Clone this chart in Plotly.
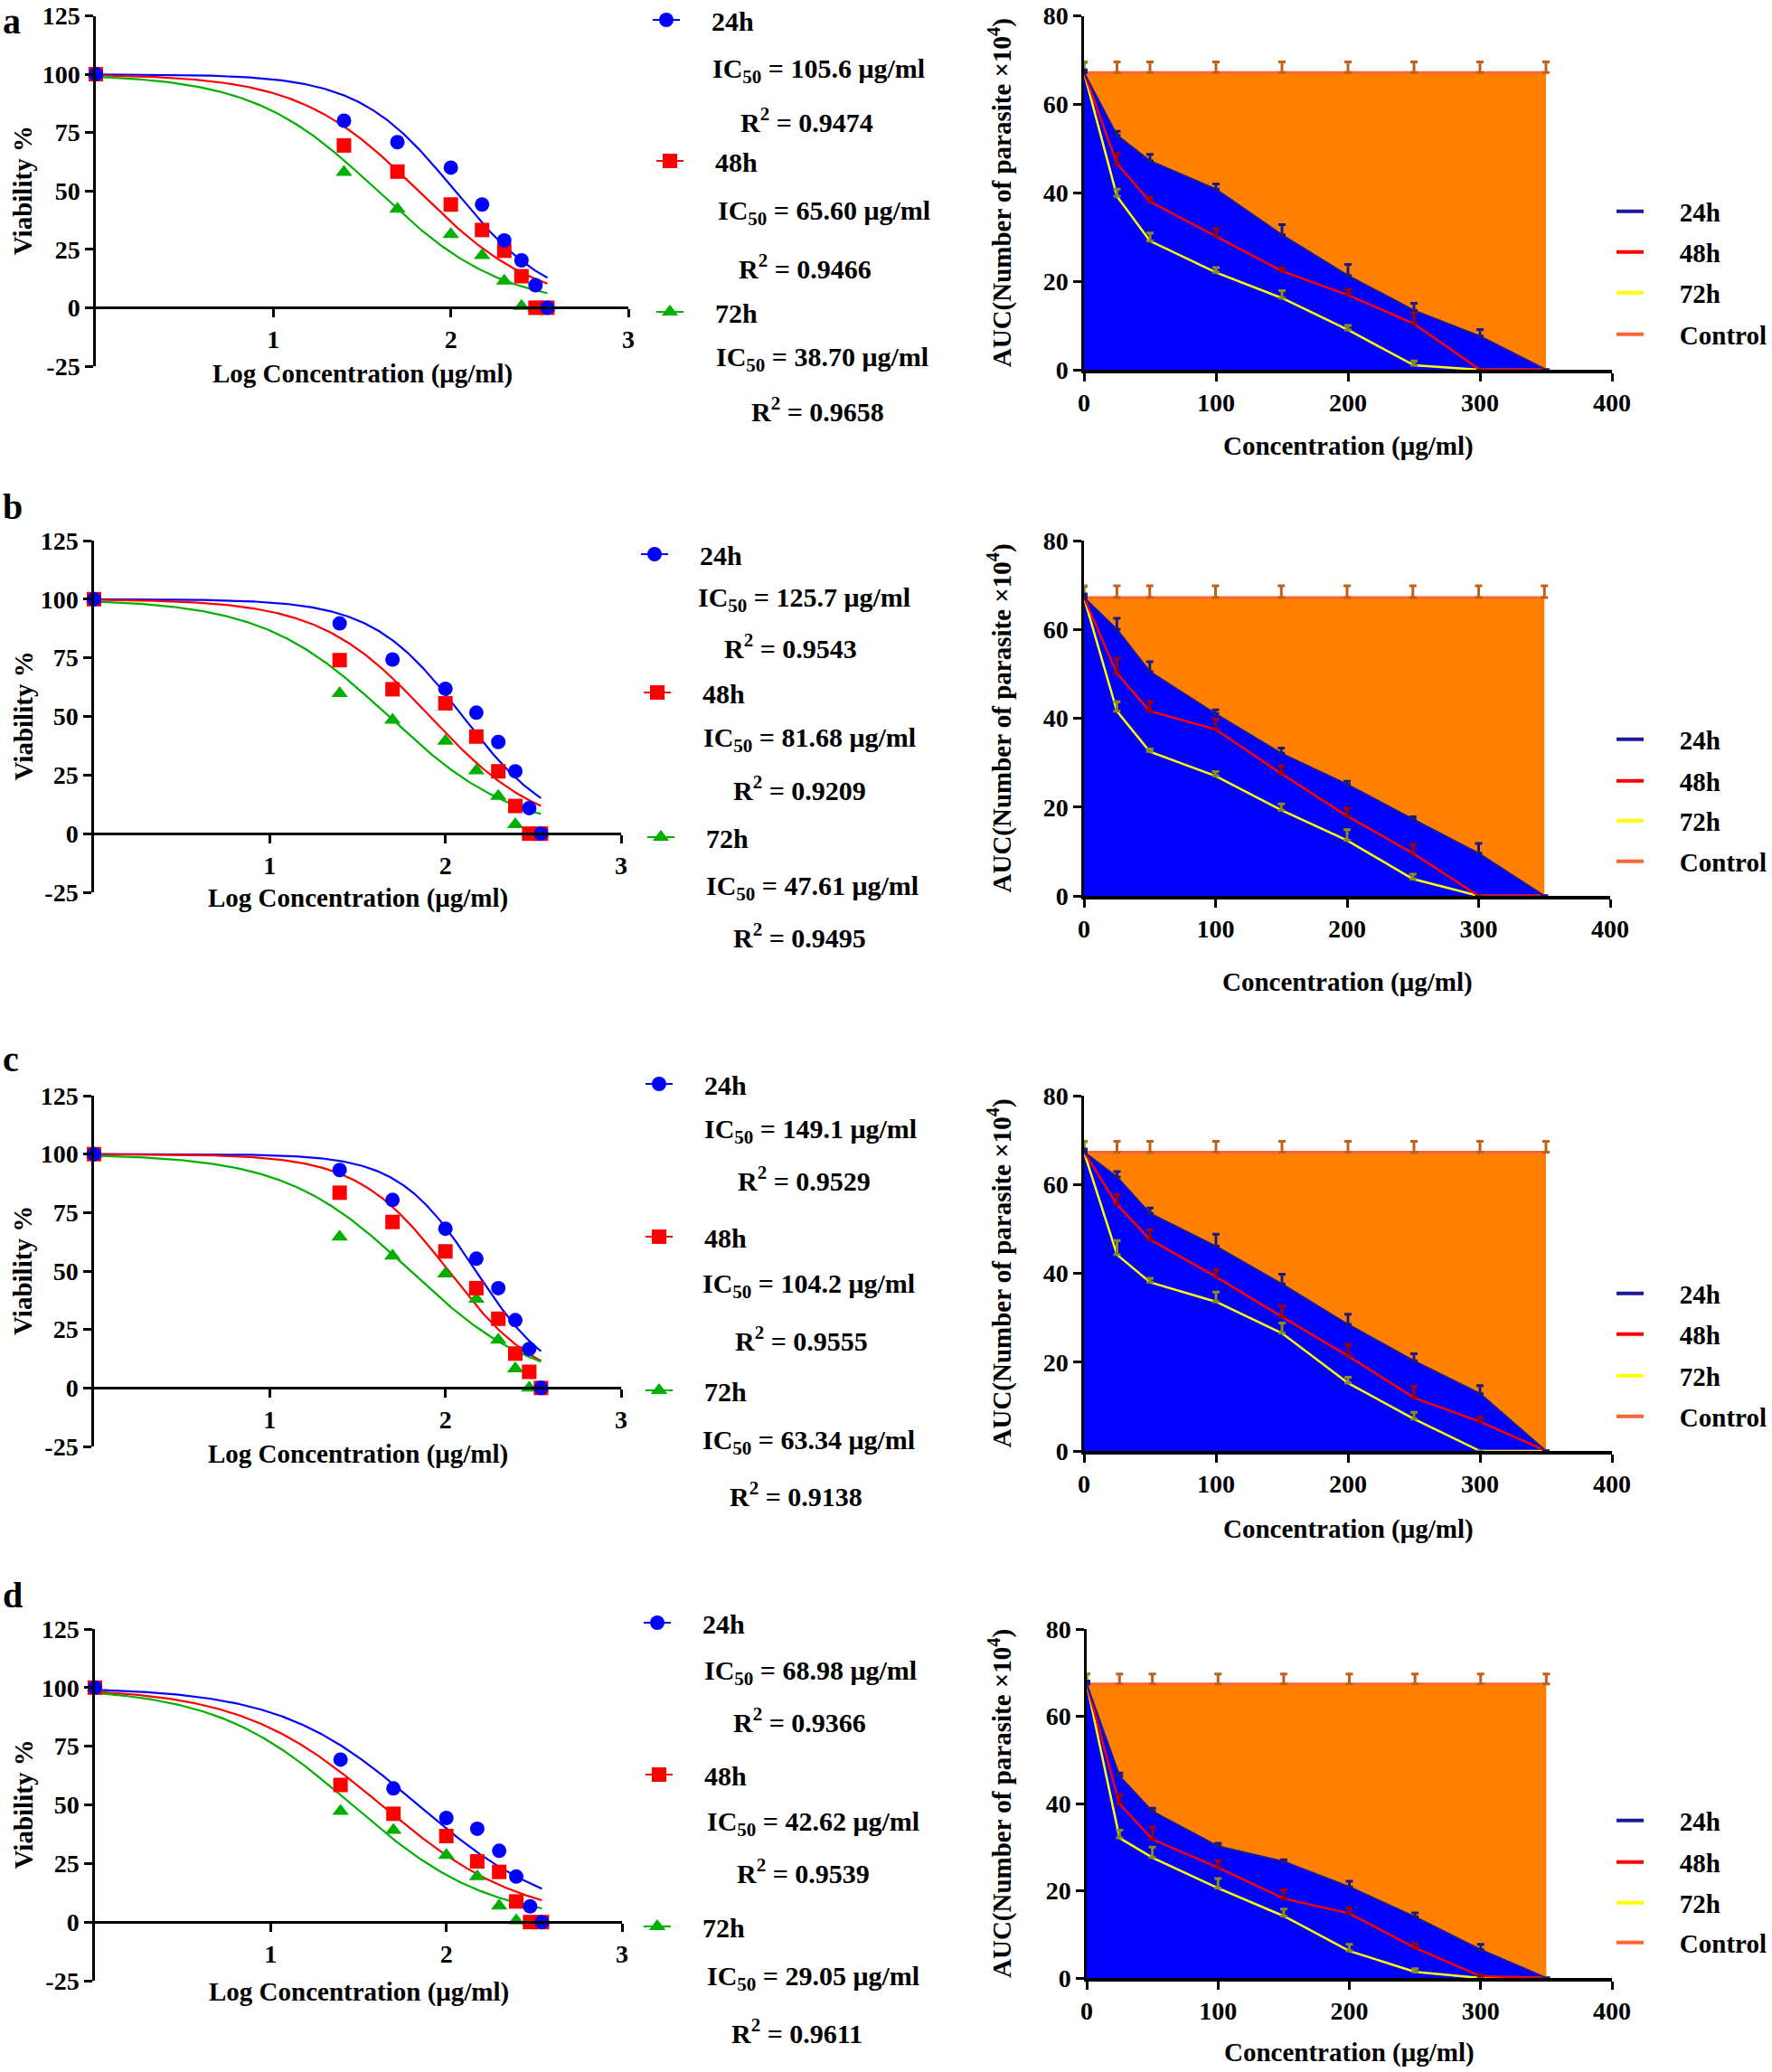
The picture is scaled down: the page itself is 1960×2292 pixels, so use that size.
import numpy as np
import plotly.graph_objects as go

# ---------------------------------------------------------------- data
PANEL_LABELS = ["a", "b", "c", "d"]
TIME_LABELS = ["24h", "48h", "72h"]
CONC = [0, 25, 50, 100, 150, 200, 250, 300, 350]          # µg/ml
LOG_CONC = [0.0, 1.398, 1.699, 2.0, 2.176, 2.301, 2.398, 2.477, 2.544]

# viability % (left panels)
VIAB_A_24H = [100, 80.1, 70.9, 60.0, 44.2, 28.8, 20.3, 9.6, 0]
VIAB_A_48H = [100, 69.5, 58.3, 44.2, 33.3, 24.4, 13.5, 0, 0]
VIAB_A_72H = [100, 58.0, 42.3, 31.4, 22.4, 11.5, 0.6, 0, 0]
VIAB_B_24H = [100, 89.7, 74.3, 61.8, 51.6, 39.1, 26.6, 10.9, 0]
VIAB_B_48H = [100, 74.0, 61.6, 55.6, 41.4, 26.6, 11.8, 0, 0]
VIAB_B_72H = [100, 59.8, 48.5, 39.5, 26.9, 16.0, 3.9, 0, 0]
VIAB_C_24H = [100, 93.2, 80.4, 68.1, 55.3, 42.7, 29.0, 16.7, 0]
VIAB_C_48H = [100, 83.5, 71.0, 58.4, 42.7, 29.6, 14.7, 6.9, 0]
VIAB_C_72H = [100, 64.6, 56.5, 48.8, 38.0, 20.5, 8.2, 0, 0]
VIAB_D_24H = [100, 69.3, 57.0, 44.4, 39.8, 30.4, 19.4, 6.7, 0]
VIAB_D_48H = [100, 58.5, 46.2, 36.7, 25.9, 21.4, 8.8, 0, 0]
VIAB_D_72H = [100, 47.3, 39.2, 28.5, 19.4, 6.9, 0.6, 0, 0]

# fitted dose-response parameters (IC50 as printed, Hill slope estimated)
IC50_A = ["105.6", "65.60", "38.70"]
IC50_B = ["125.7", "81.68", "47.61"]
IC50_C = ["149.1", "104.2", "63.34"]
IC50_D = ["68.98", "42.62", "29.05"]
R2_A = ["0.9474", "0.9466", "0.9658"]
R2_B = ["0.9543", "0.9209", "0.9495"]
R2_C = ["0.9529", "0.9555", "0.9138"]
R2_D = ["0.9366", "0.9539", "0.9611"]
HILL_A = [1.60, 1.29, 1.23]
HILL_B = [1.68, 1.38, 1.20]
HILL_C = [1.97, 1.68, 1.21]
HILL_D = [1.105, 1.08, 1.117]

# AUC (number of parasite x10^4) (right panels)
AUC_A_CTRL = [67.2, 67.2, 67.2, 67.2, 67.2, 67.2, 67.2, 67.2, 67.2]
AUC_A_CTRL_ERR = [2.4, 2.4, 2.4, 2.4, 2.4, 2.4, 2.4, 2.4, 2.4]
AUC_A_24H = [67.2, 53.0, 47.2, 40.8, 30.5, 21.3, 13.4, 7.6, 0]
AUC_A_24H_ERR = [0.6, 0.9, 1.5, 1.2, 2.3, 2.5, 1.6, 1.5, 0]
AUC_A_48H = [67.2, 46.6, 38.0, 30.2, 22.3, 16.9, 10.4, 0, 0]
AUC_A_48H_ERR = [0.3, 2.3, 1.0, 1.7, 0.7, 1.3, 2.5, 0, 0]
AUC_A_72H = [67.2, 39.2, 29.1, 22.0, 16.2, 9.0, 1.0, 0, 0]
AUC_A_72H_ERR = [2.2, 1.6, 1.8, 1.1, 1.7, 1.0, 1.0, 0, 0]

AUC_B_CTRL = [67.2, 67.2, 67.2, 67.2, 67.2, 67.2, 67.2, 67.2, 67.2]
AUC_B_CTRL_ERR = [2.6, 2.6, 2.6, 2.6, 2.6, 2.6, 2.6, 2.6, 2.6]
AUC_B_24H = [67.2, 60.0, 50.5, 41.0, 32.1, 25.1, 17.3, 9.6, 0]
AUC_B_24H_ERR = [0.8, 2.5, 2.2, 0.9, 1.2, 0.7, 0.5, 2.2, 0]
AUC_B_48H = [67.2, 50.1, 41.6, 37.5, 27.5, 18.0, 9.6, 0, 0]
AUC_B_48H_ERR = [0.5, 3.4, 2.1, 2.3, 1.8, 1.8, 2.0, 0, 0]
AUC_B_72H = [67.2, 41.6, 32.5, 27.0, 19.3, 12.5, 3.8, 0, 0]
AUC_B_72H_ERR = [2.4, 2.1, 0.6, 1.0, 1.4, 2.4, 1.1, 0, 0]

AUC_C_CTRL = [67.3, 67.3, 67.3, 67.3, 67.3, 67.3, 67.3, 67.3, 67.3]
AUC_C_CTRL_ERR = [2.4, 2.4, 2.4, 2.4, 2.4, 2.4, 2.4, 2.4, 2.4]
AUC_C_24H = [67.3, 61.7, 53.5, 46.1, 37.6, 28.5, 20.3, 12.9, 0]
AUC_C_24H_ERR = [0.7, 1.2, 1.2, 2.7, 2.2, 2.3, 1.6, 1.8, 0]
AUC_C_48H = [67.3, 55.5, 47.6, 39.2, 30.2, 21.4, 12.0, 6.6, 0]
AUC_C_48H_ERR = [0.5, 2.2, 2.2, 1.6, 2.4, 2.6, 2.5, 1.1, 0]
AUC_C_72H = [67.3, 44.2, 38.0, 33.6, 26.5, 15.3, 7.2, 0, 0]
AUC_C_72H_ERR = [2.3, 3.2, 0.9, 2.2, 2.3, 1.3, 1.5, 0, 0]

AUC_D_CTRL = [67.4, 67.4, 67.4, 67.4, 67.4, 67.4, 67.4, 67.4, 67.4]
AUC_D_CTRL_ERR = [2.3, 2.3, 2.3, 2.3, 2.3, 2.3, 2.3, 2.3, 2.3]
AUC_D_24H = [67.4, 46.3, 38.2, 30.2, 26.7, 20.9, 14.0, 6.5, 0]
AUC_D_24H_ERR = [0.7, 0.7, 0.7, 0.7, 0.4, 1.3, 0.9, 1.2, 0]
AUC_D_48H = [67.4, 39.9, 31.8, 25.3, 18.2, 14.8, 6.9, 0.4, 0]
AUC_D_48H_ERR = [0.4, 2.1, 2.8, 1.6, 2.0, 1.2, 1.0, 0.3, 0]
AUC_D_72H = [67.4, 32.1, 27.6, 20.6, 14.2, 6.2, 1.4, 0, 0]
AUC_D_72H_ERR = [2.3, 1.8, 2.4, 2.2, 1.6, 1.5, 0.7, 0, 0]

# tick labels
VIAB_TICKS = [-25, 0, 25, 50, 75, 100, 125]
VIAB_TICKTEXT = ["-25", "0", "25", "50", "75", "100", "125"]
LOG_TICKS = [1, 2, 3]
AUC_TICKS = [0, 20, 40, 60, 80]
CONC_TICKS = [0, 100, 200, 300, 400]

# ---------------------------------------------------------------- assemble
VIAB = [[VIAB_A_24H, VIAB_A_48H, VIAB_A_72H], [VIAB_B_24H, VIAB_B_48H, VIAB_B_72H],
        [VIAB_C_24H, VIAB_C_48H, VIAB_C_72H], [VIAB_D_24H, VIAB_D_48H, VIAB_D_72H]]
IC50 = [IC50_A, IC50_B, IC50_C, IC50_D]
R2 = [R2_A, R2_B, R2_C, R2_D]
HILL = [HILL_A, HILL_B, HILL_C, HILL_D]
AUC = [
    dict(ctrl=AUC_A_CTRL, ctrl_err=AUC_A_CTRL_ERR, s=[AUC_A_24H, AUC_A_48H, AUC_A_72H],
         e=[AUC_A_24H_ERR, AUC_A_48H_ERR, AUC_A_72H_ERR]),
    dict(ctrl=AUC_B_CTRL, ctrl_err=AUC_B_CTRL_ERR, s=[AUC_B_24H, AUC_B_48H, AUC_B_72H],
         e=[AUC_B_24H_ERR, AUC_B_48H_ERR, AUC_B_72H_ERR]),
    dict(ctrl=AUC_C_CTRL, ctrl_err=AUC_C_CTRL_ERR, s=[AUC_C_24H, AUC_C_48H, AUC_C_72H],
         e=[AUC_C_24H_ERR, AUC_C_48H_ERR, AUC_C_72H_ERR]),
    dict(ctrl=AUC_D_CTRL, ctrl_err=AUC_D_CTRL_ERR, s=[AUC_D_24H, AUC_D_48H, AUC_D_72H],
         e=[AUC_D_24H_ERR, AUC_D_48H_ERR, AUC_D_72H_ERR]),
]

# ---------------------------------------------------------------- styling / layout
W, H = 1960, 2292
FONT = "Liberation Serif"
BLACK = "#000000"

VIAB_COLORS = ["#0000ff", "#ff0000", "#00b000"]
VIAB_SYMBOLS = ["circle", "square", "triangle-up"]
AUC_LINE_COLORS = ["#1a1a99", "#ff0000", "#ffff00"]
AUC_ERR_COLORS = ["#1a1a80", "#a00000", "#8c8c14"]
CTRL_LINE = "#ff6633"
CTRL_ERR = "#c0601a"
FILL_BLUE = "#0000ff"
FILL_ORANGE = "#ff8000"

# pixel boxes of the plot areas
L_XPIX = [(106, 695), (104, 687), (104, 687), (105, 688)]
L_YPIX = [(17.5, 405), (598, 987), (1212, 1600), (1802, 2191)]
R_XPIX = [(1199, 1783), (1199, 1781), (1199, 1783), (1202, 1783)]
R_YPIX = [(17.5, 409), (598, 991), (1212, 1605), (1802, 2188)]

LEFT_LEG_Y = [[22, 178, 345], [613, 766, 926], [1199, 1368, 1538], [1795, 1963, 2131]]
LEFT_LEG_X = [[737, 741, 741], [724, 727, 731], [729, 729, 729], [727, 729, 727]]
IC_POS = [[(905, 78), (911, 235), (909, 397)],
          [(889, 663), (895, 818), (898, 982)],
          [(896, 1251), (894, 1422), (894, 1595)],
          [(896, 1850), (899, 2017), (899, 2188)]]
R2_POS = [[(892, 133), (890, 295), (904, 453)],
          [(874, 715), (884, 872), (884, 1035)],
          [(889, 1304), (886, 1481), (880, 1653)],
          [(884, 1903), (888, 2070), (881, 2247)]]
RIGHT_LEG_Y = [[234, 279, 324, 370], [818, 864, 908, 953],
               [1431, 1476, 1522, 1567], [2014, 2060, 2105, 2149]]
RIGHT_LEG_X = 1783
LETTER_Y = [0, 560, 1171, 1764]
LX_TITLE_Y = [414, 994, 1608, 2203]
RX_TITLE_Y = [493, 1086, 1691, 2270]


def px(x):
    return x / W


def py(y):
    return 1 - y / H


def hill_curve(log_ic50, hill, xs):
    return 100.0 / (1.0 + 10 ** ((xs - log_ic50) * hill))


fig = go.Figure()
layout = dict(width=W, height=H, autosize=False,
              margin=dict(l=0, r=0, t=0, b=0, pad=0, autoexpand=False),
              paper_bgcolor="white", plot_bgcolor="white", showlegend=True)
annotations = []
legend_id = [0]


def next_legend(xpix, ypix, size=30):
    legend_id[0] += 1
    name = "legend" if legend_id[0] == 1 else "legend%d" % legend_id[0]
    layout[name] = dict(x=px(xpix), y=py(ypix), xanchor="left", yanchor="middle",
                        bgcolor="rgba(0,0,0,0)", borderwidth=0,
                        font=dict(family=FONT, size=size, color=BLACK, weight="bold"))
    return name


tickfont = dict(family=FONT, size=28, color=BLACK, weight="bold")
titlefont = dict(family=FONT, size=29, color=BLACK, weight="bold")
axis_common = dict(showgrid=False, zeroline=False, showline=True, linecolor=BLACK,
                   linewidth=2.5, ticks="outside", ticklen=9, tickwidth=2.5,
                   tickcolor=BLACK, tickfont=tickfont, fixedrange=True)

EM = "\u2003"
curve_x = np.linspace(0, max(LOG_CONC), 300)

for r in range(4):
    kL, kR = 2 * r + 1, 2 * r + 2
    xL = "x" if kL == 1 else "x%d" % kL
    yL = "y" if kL == 1 else "y%d" % kL
    xR, yR = "x%d" % kR, "y%d" % kR
    xaxL = "xaxis" if kL == 1 else "xaxis%d" % kL
    yaxL = "yaxis" if kL == 1 else "yaxis%d" % kL

    # ---------------- left: viability dose-response
    ytop, ybot = L_YPIX[r]
    yd0, yd1 = py(ybot), py(ytop)
    zero_pos = yd0 + (yd1 - yd0) * (25.0 / 150.0)
    layout[xaxL] = dict(axis_common, domain=[px(L_XPIX[r][0]), px(L_XPIX[r][1])],
                        range=[0, 3], tickvals=LOG_TICKS, anchor="free", position=zero_pos)
    layout[yaxL] = dict(axis_common, domain=[yd0, yd1], range=[-25, 125],
                        tickvals=VIAB_TICKS, ticktext=VIAB_TICKTEXT, anchor=xL)

    for i in range(3):
        fig.add_trace(go.Scatter(
            x=curve_x, y=hill_curve(np.log10(float(IC50[r][i])), HILL[r][i], curve_x),
            mode="lines", line=dict(color=VIAB_COLORS[i], width=2.2),
            xaxis=xL, yaxis=yL, showlegend=False, hoverinfo="skip"))
    for i in [2, 1, 0]:
        # points separated by gaps so no connecting line is drawn, legend shows line + marker
        xs, ys = [], []
        for xv, yv in zip(LOG_CONC, VIAB[r][i]):
            xs += [xv, None]
            ys += [yv, None]
        leg = next_legend(LEFT_LEG_X[r][i] - 20, LEFT_LEG_Y[r][i])
        fig.add_trace(go.Scatter(
            x=xs, y=ys, mode="lines+markers", connectgaps=False,
            name=EM + TIME_LABELS[i], legend=leg,
            line=dict(color=VIAB_COLORS[i], width=2),
            marker=dict(symbol=VIAB_SYMBOLS[i], size=16, color=VIAB_COLORS[i],
                        line=dict(width=0)),
            cliponaxis=False, xaxis=xL, yaxis=yL))
        annotations.append(dict(
            x=px(IC_POS[r][i][0]), y=py(IC_POS[r][i][1]), xref="paper", yref="paper",
            text="IC<sub>50</sub> = %s μg/ml" % IC50[r][i], showarrow=False,
            xanchor="center", yanchor="middle",
            font=dict(family=FONT, size=30, color=BLACK, weight="bold")))
        annotations.append(dict(
            x=px(R2_POS[r][i][0]), y=py(R2_POS[r][i][1]), xref="paper", yref="paper",
            text="R<sup>2</sup> = %s" % R2[r][i], showarrow=False,
            xanchor="center", yanchor="middle",
            font=dict(family=FONT, size=30, color=BLACK, weight="bold")))

    annotations.append(dict(x=px(25), y=py((ytop + ybot) / 2), xref="paper", yref="paper",
                            text="Viability %", textangle=-90, showarrow=False,
                            xanchor="center", yanchor="middle", font=titlefont))
    annotations.append(dict(x=px(sum(L_XPIX[r]) / 2), y=py(LX_TITLE_Y[r]), xref="paper",
                            yref="paper", text="Log Concentration (μg/ml)", showarrow=False,
                            xanchor="center", yanchor="middle", font=titlefont))
    annotations.append(dict(x=px(2), y=py(LETTER_Y[r]), xref="paper", yref="paper",
                            text=PANEL_LABELS[r], showarrow=False, xanchor="left",
                            yanchor="top" if r == 0 else "middle", borderpad=0,
                            font=dict(family=FONT, size=40, color=BLACK, weight="bold")))

    # ---------------- right: AUC
    rtop, rbot = R_YPIX[r]
    layout["xaxis%d" % kR] = dict(axis_common, domain=[px(R_XPIX[r][0]), px(R_XPIX[r][1])],
                                  range=[0, 400], tickvals=CONC_TICKS, anchor=yR,
                                  linewidth=3.5)
    layout["yaxis%d" % kR] = dict(axis_common, domain=[py(rbot), py(rtop)], range=[0, 80],
                                  tickvals=AUC_TICKS, anchor=xR)
    d = AUC[r]
    # filled areas
    fig.add_trace(go.Scatter(x=CONC, y=d["ctrl"], mode="lines", fill="tozeroy",
                             fillcolor=FILL_ORANGE, line=dict(width=0, color=FILL_ORANGE),
                             xaxis=xR, yaxis=yR, showlegend=False, hoverinfo="skip"))
    fig.add_trace(go.Scatter(x=CONC, y=d["s"][0], mode="lines", fill="tozeroy",
                             fillcolor=FILL_BLUE, line=dict(width=0, color=FILL_BLUE),
                             xaxis=xR, yaxis=yR, showlegend=False, hoverinfo="skip"))
    names = TIME_LABELS + ["Control"]
    series = d["s"] + [d["ctrl"]]
    errs = d["e"] + [d["ctrl_err"]]
    lcolors = AUC_LINE_COLORS + [CTRL_LINE]
    ecolors = AUC_ERR_COLORS + [CTRL_ERR]
    widths = [2, 2.5, 2.5, 3]
    for j in [3, 2, 1, 0]:
        fig.add_trace(go.Scatter(x=CONC, y=series[j], mode="lines",
                                 line=dict(color=lcolors[j], width=widths[j]),
                                 xaxis=xR, yaxis=yR, showlegend=False, hoverinfo="skip"))
    for j in [3, 2, 1, 0]:
        fig.add_trace(go.Scatter(
            x=CONC, y=series[j], mode="markers",
            marker=dict(size=2, opacity=0, color=ecolors[j]),
            error_y=dict(type="data", symmetric=False, array=errs[j],
                         arrayminus=[0] * len(errs[j]), color=ecolors[j],
                         thickness=3, width=4),
            xaxis=xR, yaxis=yR, showlegend=False, hoverinfo="skip"))
    # legend entries (thicker key lines, as in the original key)
    for j in range(4):
        leg = next_legend(RIGHT_LEG_X, RIGHT_LEG_Y[r][j], size=29)
        fig.add_trace(go.Scatter(x=[None], y=[None], mode="lines",
                                 line=dict(color=lcolors[j], width=4),
                                 name=EM + "\u2009" + names[j], legend=leg,
                                 xaxis=xR, yaxis=yR, hoverinfo="skip"))

    annotations.append(dict(x=px(1106), y=py((rtop + rbot) / 2), xref="paper", yref="paper",
                            text="AUC(Number of parasite ×10<sup>4</sup>)", textangle=-90,
                            showarrow=False, xanchor="center", yanchor="middle",
                            font=titlefont))
    annotations.append(dict(x=px(sum(R_XPIX[r]) / 2), y=py(RX_TITLE_Y[r]), xref="paper",
                            yref="paper", text="Concentration (μg/ml)", showarrow=False,
                            xanchor="center", yanchor="middle", font=titlefont))

layout["annotations"] = annotations
fig.update_layout(**layout)
fig.write_html(
    "out.html",
    config={"displayModeBar": False},
    post_script=("document.body.style.margin='0px';"
                 "document.body.style.padding='0px';"
                 "document.documentElement.style.overflow='hidden';"))
